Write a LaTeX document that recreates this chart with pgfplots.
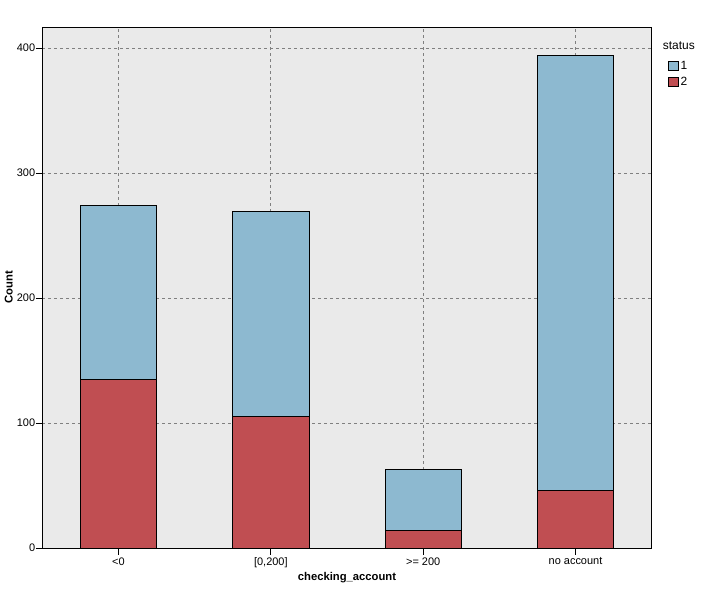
\documentclass[border=0pt]{standalone}
\usepackage{fontspec}
\setmainfont{Liberation Sans}
\usepackage{pgfplots}
\pgfplotsset{compat=1.18}

\definecolor{panelgray}{RGB}{234,234,234}
\definecolor{gridgray}{RGB}{128,128,128}
\definecolor{status1}{RGB}{141,185,208}
\definecolor{status2}{RGB}{192,78,82}

\begin{document}
\begin{tikzpicture}
\path[use as bounding box] (-42.3bp,-42bp) rectangle (667.7bp,548bp);
\begin{axis}[
at={(0,0)}, anchor=south west,
scale only axis,
width=609.4bp, height=521bp,
clip=false,
ybar stacked,
bar width=0.5,
xmin=-0.5, xmax=3.5,
ymin=0, ymax=416.8,
xtick={0,1,2,3},
xticklabels={<0,{[0,200]},>= 200,no account},
ytick={0,100,200,300,400},
/pgf/number format/assume math mode=true,
axis background/.style={fill=panelgray},
axis line style={black, line width=0.8pt},
tick align=outside,
tick pos=left,
major tick length=6.5bp,
tick style={black, line width=0.8pt},
xmajorgrids, ymajorgrids,
grid style={gridgray, line width=0.75pt, dash pattern=on 3bp off 3bp},
ticklabel style={font=\fontsize{11}{13}\selectfont},
yticklabel style={inner sep=0.5bp},
xticklabel style={inner sep=3.2bp},
xlabel={checking\_account},
ylabel={Count},
label style={font=\fontsize{11.3}{13}\selectfont\bfseries},
xlabel style={at={(rel axis cs:0.5,-0.057)}, anchor=center},
ylabel style={at={(rel axis cs:-0.055,0.5)}, anchor=center},
legend style={at={(rel axis cs:1.027,0.939)}, anchor=north west,
  draw=none, fill=none, inner sep=0pt, row sep=2.5bp,
  font=\fontsize{12}{14}\selectfont,
  /tikz/every even column/.append style={column sep=1.5bp}},
legend cell align=left,
reverse legend,
legend image code/.code={\draw[#1, draw=black, line width=0.7pt] (0bp,-4.7bp) rectangle (9.5bp,4.7bp);},
]
\addplot[fill=status2, draw=black, line width=0.8pt] coordinates {(0,135) (1,105) (2,14) (3,46)};
\addlegendentry{2}
\addplot[fill=status1, draw=black, line width=0.8pt] coordinates {(0,139) (1,164) (2,49) (3,348)};
\addlegendentry{1}
\node[anchor=west, font=\fontsize{12}{14}\selectfont, inner sep=0pt] at (rel axis cs:1.018,0.965) {status};
\end{axis}
\end{tikzpicture}
\end{document}
